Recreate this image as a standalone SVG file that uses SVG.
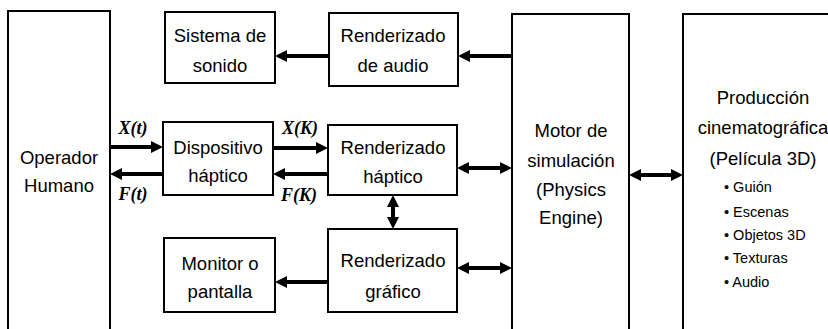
<svg xmlns="http://www.w3.org/2000/svg" width="828" height="329" viewBox="0 0 828 329">
<defs>
<style>
.box{fill:#fff;stroke:#000;stroke-width:2}
.open{fill:none;stroke:#000;stroke-width:2}
.t{font-family:"Liberation Sans",Arial,sans-serif;font-size:18.5px;fill:#000;text-anchor:middle}
.b{font-family:"Liberation Sans",Arial,sans-serif;font-size:14.5px;fill:#000}
.lbl{font-family:"Liberation Serif","Times New Roman",serif;font-size:18px;font-weight:bold;font-style:italic;fill:#000;text-anchor:middle}
.a{stroke:#000;stroke-width:4;fill:none;marker-end:url(#ah)}
.d{stroke:#000;stroke-width:4;fill:none;marker-end:url(#ah);marker-start:url(#ah)}
</style>
<marker id="ah" markerUnits="userSpaceOnUse" markerWidth="12" markerHeight="12" refX="2" refY="6" orient="auto-start-reverse" viewBox="0 0 12 12">
<path d="M0,0 L12,6 L0,12 z" fill="#000"/>
</marker>
</defs>
<rect width="828" height="329" fill="#fff"/>

<g id="operador">
<path class="open" d="M8,340 V11 H110 V340"/>
<text class="t" x="59" y="164">Operador</text>
<text class="t" x="59" y="192">Humano</text>
</g>

<g id="sistema-sonido">
<rect class="box" x="165" y="12" width="110" height="71"/>
<text class="t" x="220" y="42">Sistema de</text>
<text class="t" x="220" y="72">sonido</text>
</g>

<g id="render-audio">
<rect class="box" x="329" y="13" width="129" height="73"/>
<text class="t" x="393" y="42">Renderizado</text>
<text class="t" x="393" y="72">de audio</text>
</g>

<g id="dispositivo">
<rect class="box" x="163" y="122" width="110" height="73"/>
<text class="t" x="218" y="154">Dispositivo</text>
<text class="t" x="218" y="182">háptico</text>
</g>

<g id="render-haptico">
<rect class="box" x="328" y="125" width="129" height="70"/>
<text class="t" x="393" y="154">Renderizado</text>
<text class="t" x="393" y="183">háptico</text>
</g>

<g id="monitor">
<rect class="box" x="164" y="238" width="111" height="74"/>
<text class="t" x="220" y="270">Monitor o</text>
<text class="t" x="220" y="298">pantalla</text>
</g>

<g id="render-grafico">
<rect class="box" x="328" y="229" width="129" height="83"/>
<text class="t" x="393" y="267">Renderizado</text>
<text class="t" x="393" y="298">gráfico</text>
</g>

<g id="motor">
<path class="open" d="M512,340 V14 H629 V340"/>
<text class="t" x="571" y="137">Motor de</text>
<text class="t" x="571" y="167">simulación</text>
<text class="t" x="571" y="196">(Physics</text>
<text class="t" x="571" y="224">Engine)</text>
</g>

<g id="produccion">
<path class="open" d="M683,340 V14 H840"/>
<text class="t" x="763" y="104">Producción</text>
<text class="t" x="763" y="134">cinematográfica</text>
<text class="t" x="763" y="165">(Película 3D)</text>
<text class="b" x="724" y="192">• Guión</text>
<text class="b" x="724" y="217">• Escenas</text>
<text class="b" x="724" y="240">• Objetos  3D</text>
<text class="b" x="724" y="263">• Texturas</text>
<text class="b" x="724" y="287">• Audio</text>
</g>

<g id="connectors">
<line class="a" x1="329" y1="56" x2="285" y2="56"/>
<line class="a" x1="512" y1="56" x2="468" y2="56"/>
<line class="a" x1="110" y1="147" x2="153" y2="147"/>
<line class="a" x1="163" y1="174" x2="120" y2="174"/>
<line class="a" x1="273" y1="148" x2="318" y2="148"/>
<line class="a" x1="328" y1="174" x2="283" y2="174"/>
<line class="d" x1="467" y1="168" x2="502" y2="168"/>
<line class="d" x1="393" y1="205" x2="393" y2="219"/>
<line class="d" x1="467" y1="268" x2="502" y2="268"/>
<line class="a" x1="328" y1="282" x2="285" y2="282"/>
<line class="d" x1="639" y1="175" x2="673" y2="175"/>
<text class="lbl" x="133" y="134">X(t)</text>
<text class="lbl" x="133" y="200">F(t)</text>
<text class="lbl" x="300" y="134">X(K)</text>
<text class="lbl" x="299" y="201">F(K)</text>
</g>
</svg>
